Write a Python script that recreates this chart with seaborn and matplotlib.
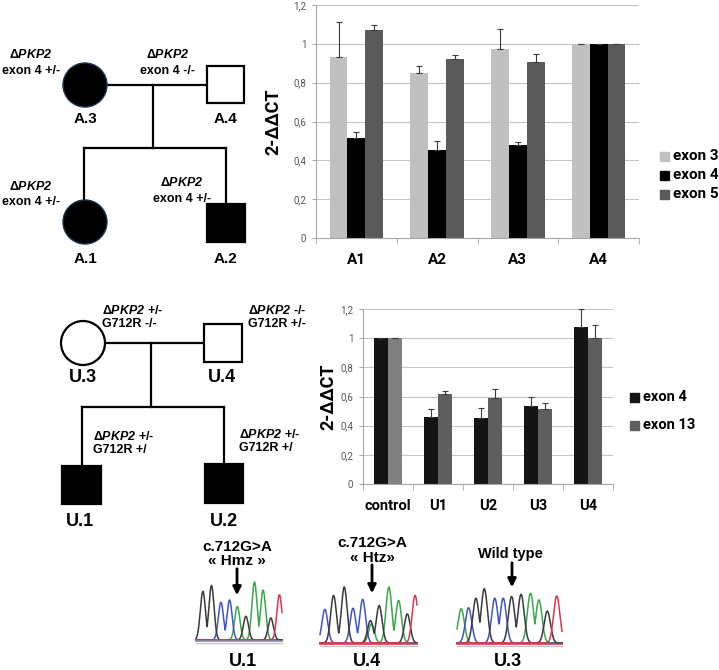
import numpy as np
import pandas as pd
import matplotlib
matplotlib.use("Agg")
import matplotlib.pyplot as plt
from matplotlib.patches import Circle, Rectangle
import seaborn as sns

# family A qPCR
top_samples = ["A1", "A2", "A3", "A4"]
top_exons = ["exon 3", "exon 4", "exon 5"]
top_exon3 = [0.93, 0.85, 0.975, 1.0]
top_exon4 = [0.515, 0.455, 0.48, 1.0]
top_exon5 = [1.07, 0.92, 0.905, 1.0]
top_exon3_err = [0.18, 0.035, 0.10, 0.0]
top_exon4_err = [0.03, 0.045, 0.015, 0.0]
top_exon5_err = [0.025, 0.025, 0.045, 0.0]
top_colors = ["#c0c0c0", "#000000", "#5a5a5a"]

# family U qPCR
bot_samples = ["control", "U1", "U2", "U3", "U4"]
bot_exons = ["exon 4", "exon 13"]
bot_exon4 = [1.0, 0.46, 0.45, 0.535, 1.08]
bot_exon13 = [1.0, 0.62, 0.59, 0.515, 1.0]
bot_exon4_err = [0.0, 0.055, 0.07, 0.065, 0.12]
bot_exon13_err = [0.0, 0.015, 0.06, 0.04, 0.09]
bot_colors = ["#141414", "#5e5e5e"]

ytick_vals = [0, 0.2, 0.4, 0.6, 0.8, 1.0, 1.2]
ytick_text = ["0", "0,2", "0,4", "0,6", "0,8", "1", "1,2"]

# sequencing traces: peak position (0-1), relative height, base colour
u1_pos = [0.08, 0.18, 0.29, 0.39, 0.48, 0.58, 0.68, 0.78, 0.87, 0.97]
u1_h = [0.84, 0.94, 0.65, 0.69, 0.58, 0.41, 1.0, 0.86, 0.38, 0.78]
u1_base = ["k", "k", "b", "b", "g", "k", "g", "g", "k", "r"]

u4_pos = [0.05, 0.14, 0.25, 0.34, 0.44, 0.52, 0.53, 0.61, 0.71, 0.81, 0.90, 0.98]
u4_h = [0.60, 0.85, 1.0, 0.62, 0.78, 0.40, 0.34, 0.67, 1.0, 0.76, 0.52, 0.85]
u4_base = ["b", "k", "k", "b", "b", "k", "g", "k", "g", "g", "k", "r"]

u3_pos = [0.04, 0.11, 0.18, 0.26, 0.36, 0.44, 0.52, 0.61, 0.70, 0.78, 0.86, 0.95]
u3_h = [0.61, 0.63, 0.80, 0.97, 0.80, 0.80, 0.83, 0.87, 0.89, 0.77, 0.57, 0.84]
u3_base = ["g", "b", "k", "k", "b", "b", "k", "k", "g", "g", "k", "r"]

trace_colors = {"g": "#3aa84a", "b": "#3f55c8", "k": "#3a3a3a", "r": "#e03550"}

plt.rcParams["font.family"] = ["Liberation Sans", "DejaVu Sans"]
plt.rcParams["mathtext.fontset"] = "custom"
plt.rcParams["mathtext.bfit"] = "Liberation Sans:italic:bold"
plt.rcParams["mathtext.rm"] = "Liberation Sans:bold"

CHART_FONT = ["Roboto", "Liberation Sans", "DejaVu Sans"]

W, H = 719, 670
fig = plt.figure(figsize=(W / 100, H / 100), dpi=100)
canvas = fig.add_axes([0, 0, 1, 1])
canvas.set_xlim(0, W)
canvas.set_ylim(H, 0)
canvas.axis("off")

LW = 1.6


def bar_panel(left, right, top, bottom, samples, exons, values, errors, colors, width,
              tick_size, label_x, label_pad):
    ax = fig.add_axes([left / W, (H - bottom) / H, (right - left) / W, (bottom - top) / H])
    rows = []
    for exon, vals in zip(exons, values):
        for s, v in zip(samples, vals):
            rows.append({"sample": s, "exon": exon, "value": v})
    df = pd.DataFrame(rows)
    sns.barplot(data=df, x="sample", y="value", hue="exon", palette=colors, width=width,
                saturation=1, errorbar=None, legend=False, ax=ax)
    for cont, errs in zip(ax.containers, errors):
        xs = [b.get_x() + b.get_width() / 2 for b in cont]
        ys = [b.get_height() for b in cont]
        ax.errorbar(xs, ys, yerr=[np.zeros(len(errs)), errs], fmt="none", ecolor="#3c3c3c",
                    elinewidth=0.8, capsize=2.5, capthick=0.8)
    ax.set_xlim(-0.5, len(samples) - 0.5)
    ax.set_ylim(0, 1.2)
    ax.set_yticks(ytick_vals)
    ax.set_yticklabels(ytick_text, fontsize=7, color="#555555", family=CHART_FONT)
    ax.yaxis.grid(True, color="#c4c4c4", lw=0.8)
    ax.set_axisbelow(True)
    for side in ["top", "right"]:
        ax.spines[side].set_visible(False)
    for side in ["left", "bottom"]:
        ax.spines[side].set_color("#a8a8a8")
        ax.spines[side].set_linewidth(0.8)
    ax.tick_params(axis="y", length=3, color="#a8a8a8", pad=4)
    ax.set_xticks(np.arange(-0.5, len(samples)), minor=True)
    ax.tick_params(axis="x", which="major", length=0, pad=label_pad)
    ax.tick_params(axis="x", which="minor", length=4, color="#a8a8a8")
    ax.set_xticks(range(len(samples)))
    ax.set_xticklabels(samples, fontsize=tick_size, fontweight="bold", family=CHART_FONT)
    ax.set_xlabel("")
    ax.set_ylabel("2-ΔΔCT", fontsize=13, fontweight="bold", family=CHART_FONT)
    ax.yaxis.set_label_coords(-(left - label_x) / (right - left), 0.5)
    return ax


top_ax = bar_panel(316, 639, 5, 238, top_samples, top_exons,
                   [top_exon3, top_exon4, top_exon5],
                   [top_exon3_err, top_exon4_err, top_exon5_err],
                   top_colors, 0.66, 11, 282, 11)

bot_ax = bar_panel(363, 613, 309, 484, bot_samples, bot_exons,
                   [bot_exon4, bot_exon13], [bot_exon4_err, bot_exon13_err],
                   bot_colors, 0.56, 10.5, 337, 11)
# control exon 13 bar is a lighter grey in the original
bot_ax.containers[1][0].set_facecolor("#808080")

# legends drawn by hand so they sit where the original has them
for i, (name, col) in enumerate(zip(top_exons, top_colors)):
    y = 156 + i * 19
    canvas.add_patch(Rectangle((660, y - 4.5), 9, 9, color=col))
    canvas.text(673, y, name, fontsize=11, fontweight="bold", family=CHART_FONT, va="center")
for i, (name, col) in enumerate(zip(bot_exons, bot_colors)):
    y = 397 + i * 28
    canvas.add_patch(Rectangle((630, y - 4.5), 9, 9, color=col))
    canvas.text(643, y, name, fontsize=10.5, fontweight="bold", family=CHART_FONT, va="center")


def pkp2(txt):
    return r"$\mathrm{\Delta}\mathbfit{PKP2}$" + txt


# pedigree A
canvas.plot([85, 207], [85, 85], color="k", lw=LW)
canvas.plot([153, 153], [85, 148], color="k", lw=LW)
canvas.plot([84, 226], [148, 148], color="k", lw=LW)
canvas.plot([84, 84], [148, 200], color="k", lw=LW)
canvas.plot([226, 226], [148, 204], color="k", lw=LW)
canvas.add_patch(Circle((85, 85), 22, facecolor="k", edgecolor="#1f3550", lw=1, zorder=3))
canvas.add_patch(Rectangle((207, 66), 37, 37, facecolor="white", edgecolor="k", lw=LW, zorder=3))
canvas.add_patch(Circle((85, 222), 22, facecolor="k", edgecolor="#1f3550", lw=1, zorder=3))
canvas.add_patch(Rectangle((207, 204), 38, 38, facecolor="k", edgecolor="k", lw=LW, zorder=3))
for x, y, t in [(85, 119, "A.3"), (226, 119, "A.4"), (85, 259, "A.1"), (226, 259, "A.2")]:
    canvas.text(x, y, t, fontsize=11, fontweight="bold", ha="center", va="center")
for x, y, t in [(31, 55, "exon 4 +/-"), (168, 55, "exon 4 -/-"),
                (31, 186, "exon 4 +/-"), (182, 183, "exon 4 +/-")]:
    canvas.text(x, y, pkp2(""), fontsize=9, ha="center", va="center")
    canvas.text(x, y + 16, t, fontsize=9, fontweight="bold", ha="center", va="center")

# pedigree U
canvas.plot([83, 204], [343, 343], color="k", lw=LW)
canvas.plot([151, 151], [343, 407], color="k", lw=LW)
canvas.plot([82, 224], [407, 407], color="k", lw=LW)
canvas.plot([82, 82], [407, 466], color="k", lw=LW)
canvas.plot([224, 224], [407, 464], color="k", lw=LW)
canvas.add_patch(Circle((83, 343), 22, facecolor="white", edgecolor="k", lw=LW, zorder=3))
canvas.add_patch(Rectangle((204, 324), 38, 38, facecolor="white", edgecolor="k", lw=LW, zorder=3))
canvas.add_patch(Rectangle((62, 466), 39, 38, facecolor="k", edgecolor="k", lw=LW, zorder=3))
canvas.add_patch(Rectangle((205, 464), 38, 39, facecolor="k", edgecolor="k", lw=LW, zorder=3))
for x, y, t in [(83, 377, "U.3"), (222, 377, "U.4"), (80, 522, "U.1"), (224, 521, "U.2")]:
    canvas.text(x, y, t, fontsize=13, fontweight="bold", ha="center", va="center")
for x, y, a, b in [(102, 310, " +/-", "G712R -/-"), (248, 310, " -/-", "G712R +/-"),
                   (93, 436, " +/-", "G712R +/"), (239, 434, " +/-", "G712R +/")]:
    canvas.text(x, y, pkp2(a), fontsize=9, fontweight="bold", ha="left", va="center")
    canvas.text(x, y + 14, b, fontsize=9, fontweight="bold", ha="left", va="center")


# sequencing traces
def chromatogram(x0, x1, y_base, y_top, pos, heights, bases, base_line):
    xs = np.linspace(0, 1, 500)
    sigma = 0.03
    for key in ["g", "b", "k", "r"]:
        trace = np.zeros_like(xs)
        for p, h, c in zip(pos, heights, bases):
            if c == key:
                trace = np.maximum(trace, h * np.exp(-0.5 * ((xs - p) / sigma) ** 2))
        canvas.plot(x0 + xs * (x1 - x0), y_base - trace * (y_base - y_top),
                    color=trace_colors[key], lw=1.1)
    canvas.plot([x0, x1], [y_base + 1, y_base + 1], color=base_line, lw=1.2)
    canvas.plot([x0, x1], [y_base + 3, y_base + 3], color="#c8c8c8", lw=1)


chromatogram(196, 282, 640, 582, u1_pos, u1_h, u1_base, "#8a8aa0")
chromatogram(320, 417, 643, 587, u4_pos, u4_h, u4_base, "#d04050")
chromatogram(457, 562, 643, 587, u3_pos, u3_h, u3_base, "#d04050")

for x, t1, t2, y1, y2, ys, ye in [(237, "c.712G>A", "« Hmz »", 547, 561, 566, 598),
                                  (372, "c.712G>A", "« Htz»", 543, 558, 562, 596)]:
    canvas.text(x, y1, t1, fontsize=11, fontweight="bold", ha="center", va="center")
    canvas.text(x, y2, t2, fontsize=11, fontweight="bold", ha="center", va="center")
    canvas.annotate("", xy=(x, ye), xytext=(x, ys),
                    arrowprops=dict(arrowstyle="-|>", lw=2, color="k", mutation_scale=12))
canvas.text(510, 554, "Wild type", fontsize=10.5, fontweight="bold", ha="center", va="center")
canvas.annotate("", xy=(512, 590), xytext=(512, 560),
                arrowprops=dict(arrowstyle="-|>", lw=2, color="k", mutation_scale=12))
for x, t in [(243, "U.1"), (367, "U.4"), (508, "U.3")]:
    canvas.text(x, 662, t, fontsize=13, fontweight="bold", ha="center", va="center")

fig.savefig("out.png", dpi=100)
